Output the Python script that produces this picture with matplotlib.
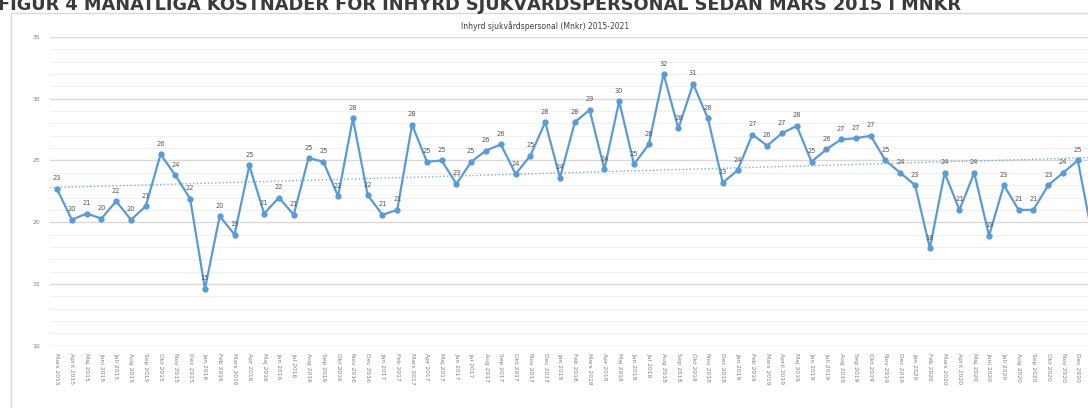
import numpy as np
import matplotlib
matplotlib.use("Agg")
import matplotlib.pyplot as plt
from matplotlib.patches import Rectangle

# manadsetiketter (Mars 2015 - Jan 2021)
months = [
    "Mars 2015", "April 2015", "Maj 2015", "Juni 2015", "Juli 2015", "Aug 2015",
    "Sep 2015", "Okt 2015", "Nov 2015", "Dec 2015",
    "Jan 2016", "Feb 2016", "Mars 2016", "Apr 2016", "Maj 2016", "Jun 2016",
    "Jul 2016", "Aug 2016", "Sep 2016", "Okt 2016", "Nov 2016", "Dec 2016",
    "Jan 2017", "Feb 2017", "Mars 2017", "Apr 2017", "Maj 2017", "Jun 2017",
    "Jul 2017", "Aug 2017", "Sep 2017", "Okt 2017", "Nov 2017", "Dec 2017",
    "Jan 2018", "Feb 2018", "Mars 2018", "Apr 2018", "Maj 2018", "Jun 2018",
    "Jul 2018", "Aug 2018", "Sep 2018", "Okt 2018", "Nov 2018", "Dec 2018",
    "Jan 2019", "Feb 2019", "Mars 2019", "April 2019", "Maj 2019", "Jun 2019",
    "Juli 2019", "Aug 2019", "Sep 2019", "Okt 2019", "Nov 2019", "Dec 2019",
    "Jan 2020", "Feb 2020", "Mars 2020", "April 2020", "Maj 2020", "Juni 2020",
    "Juli 2020", "Aug 2020", "Sep 2020", "Okt 2020", "Nov 2020", "Dec 2020",
    "Jan 2021",
]

# kostnad i Mnkr
cost = [
    22.7, 20.2, 20.7, 20.3, 21.7, 20.2, 21.3, 25.5, 23.8, 21.9,
    14.6, 20.5, 19.0, 24.6, 20.7, 22.0, 20.6, 25.2, 24.9, 22.1, 28.4, 22.2,
    20.6, 21.0, 27.9, 24.9, 25.0, 23.1, 24.9, 25.8, 26.3, 23.9, 25.4, 28.1,
    23.6, 28.1, 29.1, 24.3, 29.8, 24.7, 26.3, 32.0, 27.6, 31.2, 28.4, 23.2,
    24.2, 27.1, 26.2, 27.2, 27.8, 24.9, 25.9, 26.7, 26.8, 27.0, 25.0, 24.0,
    23.0, 17.9, 24.0, 21.0, 24.0, 18.9, 23.0, 21.0, 21.0, 23.0, 24.0, 25.0,
    18.8,
]

blue = "#5b9bd5"
grey = "#7f7f7f"

fig = plt.figure(figsize=(10.88, 4.08), dpi=100)

# ram runt diagrammet
fig.patches.append(Rectangle((10.5 / 1088, -0.1), 1.2, 1 - 13 / 408 + 0.1,
                             transform=fig.transFigure, fill=False,
                             edgecolor="#d9d9d9", linewidth=1))

fig.text(-0.002, 1 - 10 / 408,
         "FIGUR 4 MÅNATLIGA KOSTNADER FÖR INHYRD SJUKVÅRDSPERSONAL SEDAN MARS 2015 I MNKR",
         fontsize=12.8, fontweight="bold", color="#3a3a3a", va="baseline")

ax = fig.add_axes([49.6 / 1088, 1 - 345.7 / 408, (1100 - 49.6) / 1088, (345.7 - 37) / 408])

x = np.arange(len(cost))
ax.plot(x, cost, color=blue, lw=1.6, marker="o", ms=3.5, zorder=3)

# linjar trend
k, m = np.polyfit(x, cost, 1)
ax.plot([-0.5, len(cost) - 0.5], [k * -0.5 + m, k * (len(cost) - 0.5) + m],
        color=blue, lw=1, ls=":", alpha=0.8, zorder=2)

for xi, v in zip(x[:-1], cost[:-1]):
    ax.text(xi, v + 0.85, f"{v:.0f}", ha="center", va="center",
            fontsize=4.8, color="#595959")

ax.set_xlim(-0.5, len(cost) - 0.5)
ax.set_ylim(10, 35)
ax.set_yticks(range(10, 36, 5))
ax.set_yticks(range(10, 36), minor=True)
ax.grid(True, which="major", axis="y", color="#d9d9d9", lw=1)
ax.grid(True, which="minor", axis="y", color="#f0f0f0", lw=0.8)
ax.set_axisbelow(True)
for s in ax.spines.values():
    s.set_visible(False)

ax.set_xticks(x[:-1])
ax.set_xticklabels(months[:-1], rotation=-90, fontsize=4.3, color=grey)
ax.tick_params(axis="both", which="both", length=0)
ax.tick_params(axis="x", pad=5)
ax.tick_params(axis="y", labelsize=4.3, labelcolor=grey, pad=7)

fig.text(545 / 1088, 1 - 26 / 408, "Inhyrd sjukvårdspersonal (Mnkr) 2015-2021",
         ha="center", va="center", fontsize=5.5, color="#404040")

fig.savefig("out.png", dpi=100)
